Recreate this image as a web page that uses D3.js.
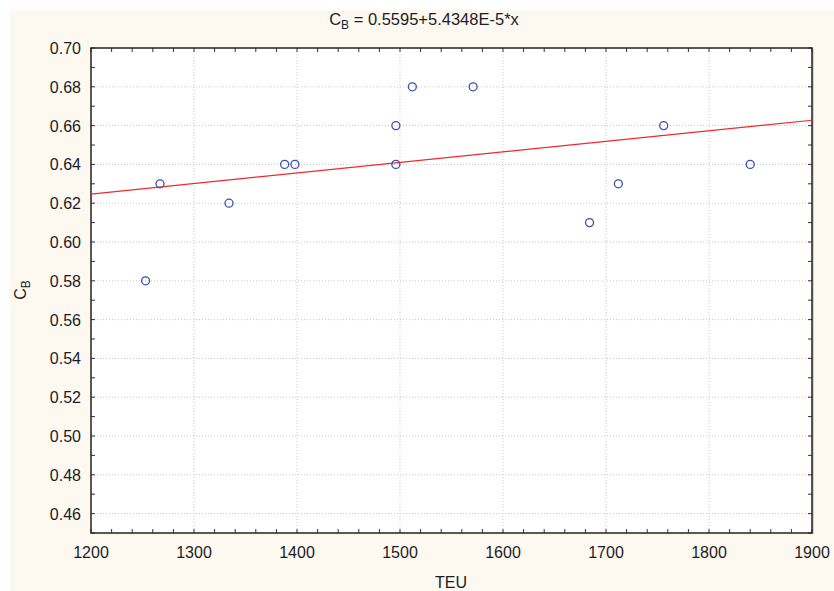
<!DOCTYPE html>
<html>
<head>
    <title></title>
    <meta charset="utf-8">
    <style>
        body { margin: 0; background: #fff; }
        text { font-family: 'Liberation Sans', Arial, sans-serif; fill: #1c1c28; }
    </style>
</head>
<body>
<script src="https://d3js.org/d3.v7.min.js"></script>
<script>
    var teu = [1253, 1267, 1334, 1388, 1398, 1496, 1496, 1512, 1571, 1684, 1712, 1756, 1840];
    var cb  = [0.58, 0.63, 0.62, 0.64, 0.64, 0.66, 0.64, 0.68, 0.68, 0.61, 0.63, 0.66, 0.64];
    var xTicks = [1200, 1300, 1400, 1500, 1600, 1700, 1800, 1900];
    var yTicks = [0.46, 0.48, 0.50, 0.52, 0.54, 0.56, 0.58, 0.60, 0.62, 0.64, 0.66, 0.68, 0.70];
    var fitA = 0.5595, fitB = 5.4348E-5;

    var W = 834, H = 591;
    var plot = { left: 91, top: 48, right: 812, bottom: 533 };

    var svg = d3.select('body').append('svg')
        .attr('width', W)
        .attr('height', H);

    svg.append('rect')
        .attr('x', 10).attr('y', 10)
        .attr('width', W - 10).attr('height', H - 10)
        .attr('fill', '#fdf8f0');

    svg.append('rect')
        .attr('x', plot.left).attr('y', plot.top)
        .attr('width', plot.right - plot.left).attr('height', plot.bottom - plot.top)
        .attr('fill', '#fff');

    var x = d3.scaleLinear().domain([1200, 1900]).range([plot.left, plot.right]);
    var y = d3.scaleLinear().domain([0.45, 0.70]).range([plot.bottom, plot.top]);

    // grid
    svg.append('g').selectAll('line').data(xTicks.slice(1, -1)).enter().append('line')
        .attr('x1', x).attr('x2', x)
        .attr('y1', plot.top).attr('y2', plot.bottom)
        .attr('stroke', '#c8c8c8').attr('stroke-dasharray', '1,2');
    svg.append('g').selectAll('line').data(yTicks.slice(0, -1)).enter().append('line')
        .attr('y1', y).attr('y2', y)
        .attr('x1', plot.left).attr('x2', plot.right)
        .attr('stroke', '#c8c8c8').attr('stroke-dasharray', '1,2');

    // inward ticks on all sides
    var xMinor = d3.range(1200, 1901, 20);
    var yMinor = d3.range(45, 71).map(function (d) { return d / 100; });
    var ticks = svg.append('g').attr('stroke', '#333').attr('stroke-width', 1);
    xMinor.forEach(function (v) {
        ticks.append('line').attr('x1', x(v)).attr('x2', x(v)).attr('y1', plot.bottom).attr('y2', plot.bottom - 4);
        ticks.append('line').attr('x1', x(v)).attr('x2', x(v)).attr('y1', plot.top).attr('y2', plot.top + 4);
    });
    yMinor.forEach(function (v) {
        ticks.append('line').attr('y1', y(v)).attr('y2', y(v)).attr('x1', plot.left).attr('x2', plot.left + 4);
        ticks.append('line').attr('y1', y(v)).attr('y2', y(v)).attr('x1', plot.right).attr('x2', plot.right - 4);
    });

    // frame
    svg.append('line').attr('x1', plot.right + 1).attr('x2', plot.right + 1)
        .attr('y1', plot.top + 1).attr('y2', plot.bottom + 1).attr('stroke', '#aaa');
    svg.append('rect')
        .attr('x', plot.left).attr('y', plot.top)
        .attr('width', plot.right - plot.left).attr('height', plot.bottom - plot.top)
        .attr('fill', 'none').attr('stroke', '#222').attr('stroke-width', 1.5);

    // tick labels
    svg.append('g').selectAll('text').data(xTicks).enter().append('text')
        .attr('x', x).attr('y', 558)
        .attr('text-anchor', 'middle')
        .attr('font-size', 16)
        .text(function (d) { return d; });
    svg.append('g').selectAll('text').data(yTicks).enter().append('text')
        .attr('x', 81).attr('y', function (d) { return y(d) + 6; })
        .attr('text-anchor', 'end')
        .attr('font-size', 16)
        .text(function (d) { return d3.format('.2f')(d); });

    // fit line
    svg.append('line')
        .attr('x1', x(1200)).attr('y1', y(fitA + fitB * 1200))
        .attr('x2', x(1900)).attr('y2', y(fitA + fitB * 1900))
        .attr('stroke', '#f0282d').attr('stroke-width', 1.2);

    // points
    svg.append('g').selectAll('circle').data(teu).enter().append('circle')
        .attr('cx', function (d) { return x(d); })
        .attr('cy', function (d, i) { return y(cb[i]); })
        .attr('r', 4)
        .attr('fill', 'none')
        .attr('stroke', '#3a4fb0')
        .attr('stroke-width', 1.3);

    // titles
    var t = svg.append('text').attr('x', 424).attr('y', 25).attr('text-anchor', 'middle').attr('font-size', 16.5);
    t.append('tspan').text('C');
    t.append('tspan').attr('font-size', 12).attr('dy', 4).text('B');
    t.append('tspan').attr('dy', -4).text(' = 0.5595+5.4348E-5*x');

    svg.append('text').attr('x', 451).attr('y', 588).attr('text-anchor', 'middle').attr('font-size', 16).text('TEU');

    var yl = svg.append('text').attr('transform', 'translate(26,290) rotate(-90)').attr('text-anchor', 'middle').attr('font-size', 16);
    yl.append('tspan').text('C');
    yl.append('tspan').attr('font-size', 12).attr('dy', 4).text('B');
</script>
</body>
</html>
